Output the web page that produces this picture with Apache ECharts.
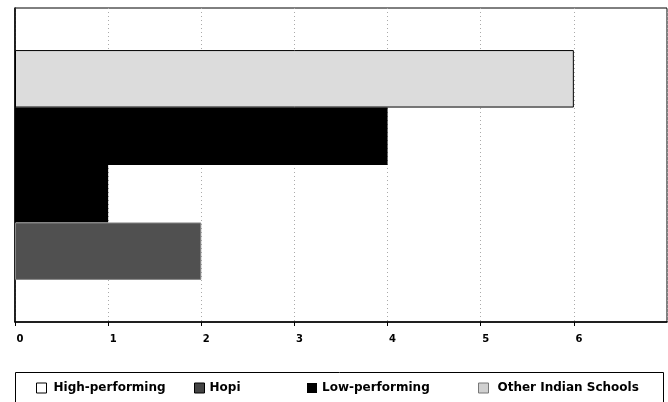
<!DOCTYPE html>
<html><head><meta charset="utf-8">
<script src="https://cdn.jsdelivr.net/npm/echarts@6/dist/echarts.min.js"></script>
<style>html,body{margin:0;padding:0;background:#fff}#c{width:668px;height:402px}</style>
</head><body><div id="c"></div>
<script>
const categories = [''];
const xTicks = [0, 1, 2, 3, 4, 5, 6, 7];
const legendNames = ['High-performing', 'Hopi', 'Low-performing', 'Other Indian Schools'];
const otherValues = [6];
const lowValues = [4];
const highValues = [1];
const hopiValues = [2];

const chart = echarts.init(document.getElementById('c'));
const font = '"DejaVu Sans", Verdana, sans-serif';
const legendStyles = {
  'High-performing': {color: '#ffffff', borderColor: '#000', borderWidth: 1},
  'Hopi': {color: '#444444', borderColor: '#000', borderWidth: 1},
  'Low-performing': {color: '#000000'},
  'Other Indian Schools': {color: '#d0d0d0', borderColor: '#777', borderWidth: 1}
};
const legendLeft = [36, 194, 307, 478];
const legendTextPad = [2, 0, 0, 4];
chart.setOption({
  animation: false,
  grid: {left: 15, right: 1, top: 8, bottom: 80, show: true, borderColor: '#000', borderWidth: 1},
  xAxis: {
    type: 'value', min: xTicks[0], max: xTicks[xTicks.length - 1], interval: 1,
    axisLine: {show: true, lineStyle: {color: '#000', width: 1.5}},
    axisTick: {show: true, length: 4, lineStyle: {color: '#000'}},
    axisLabel: {showMaxLabel: false, color: '#000', fontFamily: font, fontWeight: 'bold', fontSize: 10, margin: 12, padding: [0, 0, 0, 10]},
    splitLine: {show: true, lineStyle: {color: '#aaa', type: [1, 3], width: 1}}
  },
  yAxis: {
    type: 'category', data: categories,
    axisLine: {show: true, lineStyle: {color: '#000', width: 1.5}},
    axisTick: {show: false}, axisLabel: {show: false}
  },
  legend: legendNames.map((n, i) => ({
    data: [{name: n, icon: 'rect', itemStyle: legendStyles[n]}],
    left: legendLeft[i], top: 382, padding: 0, itemWidth: 10, itemHeight: 10, itemGap: 0,
    textStyle: {fontFamily: font, fontWeight: 'bold', fontSize: 12, color: '#000', padding: [0, 0, 0, legendTextPad[i]]}
  })),
  graphic: [{type: 'rect', shape: {x: 15.5, y: 372.5, width: 648, height: 40}, style: {fill: 'none', stroke: '#000', lineWidth: 1}}],
  series: [
    {name: 'Other Indian Schools', type: 'bar', data: otherValues, barGap: '0%', barCategoryGap: '26.8%',
     itemStyle: {color: '#dcdcdc', borderColor: '#000', borderWidth: 1}},
    {name: 'Low-performing', type: 'bar', data: lowValues, itemStyle: {color: '#000'}},
    {name: 'High-performing', type: 'bar', data: highValues, itemStyle: {color: '#000'}},
    {name: 'Hopi', type: 'bar', data: hopiValues, itemStyle: {color: '#505050', borderColor: '#888', borderWidth: 1}}
  ]
});
</script></body></html>
